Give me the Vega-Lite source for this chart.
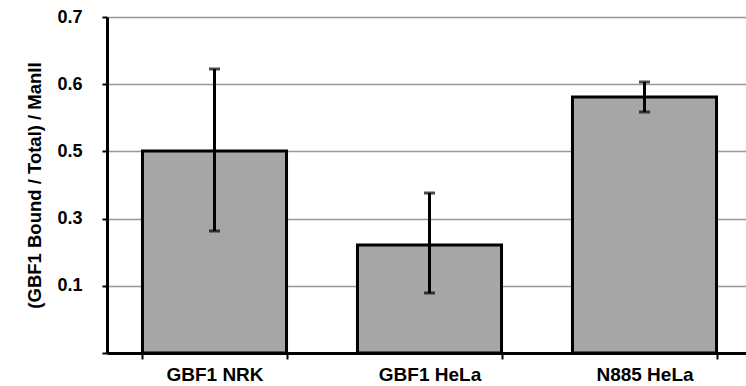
{
  "$schema": "https://vega.github.io/schema/vega-lite/v6.json",
  "autosize": {"type": "none"},
  "padding": {"left": 107, "top": 17, "right": 0, "bottom": 33},
  "width": 645,
  "height": 336,
  "background": "white",
  "config": {"view": {"stroke": null}},
  "data": {"values": [
    {"group": "GBF1 NRK", "value": 0.4208, "lo": 0.2542, "hi": 0.5917},
    {"group": "GBF1 HeLa", "value": 0.225, "lo": 0.125, "hi": 0.3333},
    {"group": "N885 HeLa", "value": 0.5333, "lo": 0.5021, "hi": 0.5646}
  ]},
  "encoding": {
    "x": {"field": "group", "type": "nominal", "sort": null,
      "scale": {"paddingInner": 0.33, "paddingOuter": 0.165},
      "axis": {"title": null, "labelAngle": 0, "labelFont": "Liberation Sans", "labelFontWeight": "bold", "labelFontSize": 19, "labelColor": "black", "labelPadding": 6,
        "domainColor": "black", "domainWidth": 3, "tickColor": "black", "tickWidth": 2, "tickSize": 6, "tickBand": "extent", "grid": false}}
  },
  "layer": [
    {"mark": {"type": "bar", "fill": "#a6a6a6", "stroke": "black", "strokeWidth": 3},
     "encoding": {"y": {"field": "value", "type": "quantitative",
       "scale": {"domain": [0, 0.7], "nice": false},
       "axis": {"title": "(GBF1 Bound / Total) / ManII", "titleFont": "Liberation Sans", "titleFontWeight": "bold", "titleFontSize": 18.5, "titleColor": "black", "titlePadding": 12,
         "values": [0, 0.14, 0.28, 0.42, 0.56, 0.7],
         "labelExpr": "datum.value > 0.69 ? '0.7' : datum.value > 0.55 ? '0.6' : datum.value > 0.41 ? '0.5' : datum.value > 0.27 ? '0.3' : datum.value > 0.13 ? '0.1' : ''",
         "labelFont": "Liberation Sans", "labelFontWeight": "bold", "labelFontSize": 18, "labelColor": "black", "labelPadding": 20,
         "domainColor": "black", "domainWidth": 3, "tickColor": "black", "tickWidth": 2, "tickSize": 5,
         "grid": true, "gridColor": "#999999", "gridWidth": 1.5}}}},
    {"mark": {"type": "rule", "color": "black", "strokeWidth": 3},
     "encoding": {"y": {"field": "lo", "type": "quantitative"}, "y2": {"field": "hi"}}},
    {"mark": {"type": "tick", "color": "black", "thickness": 3, "size": 11},
     "encoding": {"y": {"field": "lo", "type": "quantitative"}}},
    {"mark": {"type": "tick", "color": "black", "thickness": 3, "size": 11},
     "encoding": {"y": {"field": "hi", "type": "quantitative"}}}
  ]
}
